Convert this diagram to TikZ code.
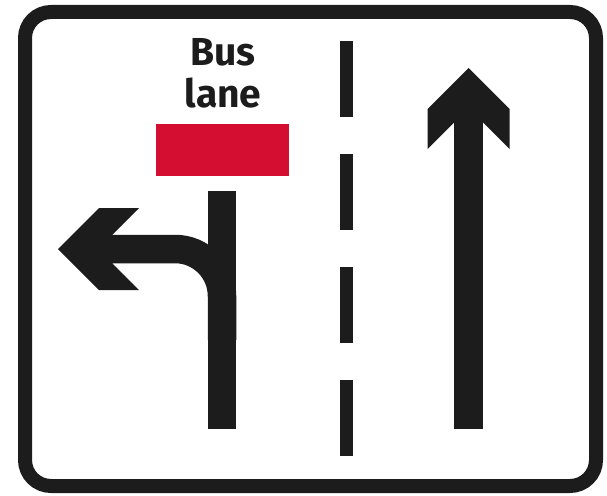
\documentclass[tikz,border=0pt]{standalone}
\usepackage{fontspec}
\setmainfont{Fira Sans}
\definecolor{signblack}{RGB}{28,28,28}
\definecolor{busred}{RGB}{212,14,48}
\begin{document}
\begin{tikzpicture}[x=1pt,y=-1pt,
  frame/.style={draw=signblack, line width=14pt, rounded corners=26pt},
  arrowbar/.style={draw=signblack, line width=28.5pt, line cap=butt},
  arrowhead/.style={fill=signblack},
  lanemark/.style={draw=signblack, line width=12.5pt, dash pattern=on 76pt off 37pt},
  signtext/.style={text=signblack, font=\fontsize{39}{42}\selectfont\bfseries, anchor=base, inner sep=0pt}]
\useasboundingbox (0,0) rectangle (607,495);
\fill[white] (0,0) rectangle (607,495);
% frame
\draw[frame] (25,12) rectangle (596,486);
% text
\node[signtext] (bus) at (223,65) {Bus};
\node[signtext] (lane) at (223,107) {lane};
% red bus lane block
\fill[busred] (156,124) rectangle (289,176);
% left lane: straight stem with left turn branch
\draw[arrowbar] (222,191) -- (222,429);
\draw[arrowbar, rounded corners=47pt] (112,249) -- (222,249) -- (222,340);
\fill[arrowhead] (58,249) -- (99,208) -- (139,208) -- (112.5,234.5) -- (112.5,263.5) -- (139,290) -- (99,290) -- cycle;
% lane divider
\draw[lanemark] (346.5,41) -- (346.5,456);
% right lane: straight ahead
\draw[arrowbar] (468.5,120) -- (468.5,429);
\fill[arrowhead] (468.5,68) -- (427.5,109) -- (427.5,149) -- (454,122.5) -- (483,122.5) -- (509.5,149) -- (509.5,109) -- cycle;
\end{tikzpicture}
\end{document}
